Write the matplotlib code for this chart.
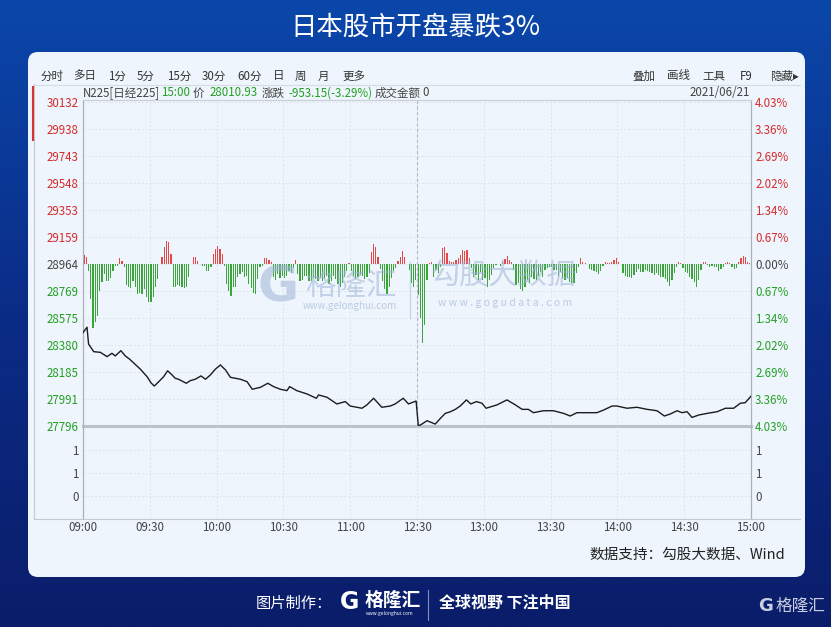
import matplotlib
matplotlib.use('Agg')
import matplotlib.pyplot as plt
import numpy as np
from matplotlib.patches import FancyBboxPatch
from matplotlib.lines import Line2D
from matplotlib.colors import LinearSegmentedColormap

plt.rcParams['font.family'] = ['Noto Sans CJK SC', 'DejaVu Sans']

# ---------------- data ----------------
title = '日本股市开盘暴跌3%'
prev_close = 28964
price_ticks = [30132, 29938, 29743, 29548, 29353, 29159, 28964,
               28769, 28575, 28380, 28185, 27991, 27796]
pct_labels = ['4.03%', '3.36%', '2.69%', '2.02%', '1.34%', '0.67%', '0.00%',
              '0.67%', '1.34%', '2.02%', '2.69%', '3.36%', '4.03%']
time_pos = [0, 30, 60, 90, 120, 150, 180, 210, 240, 270, 300]
time_labels = ['09:00', '09:30', '10:00', '10:30', '11:00', '12:30',
               '13:00', '13:30', '14:00', '14:30', '15:00']
vol_ticks = [2, 1, 0]
vol_labels = ['1', '1', '0']

# price line: trading minute since open (lunch break removed) and index level
line_min = [0, 1.8, 2.5, 4.8, 7.8, 10.8, 13, 14.5, 17, 19,
            21, 25.8, 28.8, 30.5, 32, 34, 36.2, 38, 40, 41.4,
            42.9, 46.4, 48.2, 50.4, 53, 55, 57.2, 59.4, 61.7, 64,
            66.2, 70.7, 73.7, 76, 79.7, 83, 85.6, 88.6, 91.6, 92.8,
            96, 100.6, 104.8, 105.8, 109.6, 114, 117.8, 120, 125.3, 127.5,
            130.5, 134.2, 138, 140.2, 143.8, 146.2, 149.6, 150.6, 152.2, 154.5,
            158.2, 160.5, 162.7, 165, 167.2, 169.4, 172.2, 174.2, 176.7, 179.2,
            181, 185.9, 190.4, 194.2, 197.2, 200, 202.3, 206.8, 211.3, 215.8,
            218.8, 221.8, 226.3, 230.8, 233.8, 237.6, 239.8, 244.3, 248.8, 253.3,
            257.8, 261.1, 263.8, 266.8, 269, 271.3, 273.5, 276.5, 280.3, 284.8,
            288.5, 292.2, 295.2, 297.4, 300]
line_price = [28469, 28508, 28387, 28332, 28327, 28296, 28320, 28301, 28339, 28301,
              28277, 28205, 28151, 28108, 28084, 28115, 28151, 28194, 28164, 28140,
              28133, 28104, 28123, 28133, 28157, 28133, 28164, 28205, 28236, 28200,
              28147, 28133, 28115, 28061, 28075, 28104, 28080, 28061, 28051, 28080,
              28051, 28027, 27996, 28020, 28003, 27955, 27972, 27940, 27924, 27948,
              27996, 27931, 27940, 27955, 27996, 27955, 27976, 27796, 27810, 27834,
              27810, 27851, 27887, 27899, 27916, 27940, 27984, 27955, 27972, 27960,
              27924, 27948, 27984, 27948, 27916, 27916, 27892, 27906, 27906, 27887,
              27868, 27892, 27892, 27892, 27911, 27940, 27940, 27924, 27931, 27916,
              27906, 27868, 27883, 27906, 27892, 27899, 27858, 27875, 27887, 27899,
              27924, 27924, 27960, 27964, 28011]

# per-minute bars around the previous close (positive = red, negative = green)
bar_vals = [
    9, 7, -7, -35, -64, -58, -52, -27, -18, -10,
    -17, -17, -14, -7, -2, -2, 6, 3, -3, -21,
    -23, -24, -17, -23, -30, -29, -30, -25, -33, -38,
    -38, -33, -23, -15, 0, 7, 17, 23, 22, 10,
    -23, -23, -21, -22, -23, -24, -23, -13, 0, 7,
    7, 3, 0, -2, -2, -7, -7, -3, 10, 15,
    18, 15, 10, -2, -20, -27, -32, -23, -23, -13,
    -10, -8, -13, -12, -20, -24, -29, -30, -15, -3,
    -2, 6, 6, 4, 2, -13, -16, -10, -14, -12,
    -14, -12, -7, -9, -4, 4, -10, -17, -16, -12,
    -12, -17, -17, -14, -15, -17, -14, -17, -14, -12,
    -20, -17, -12, -15, -20, -23, -19, -13, -7, 1,
    -7, -12, -15, -13, -11, -12, -15, -13, -9, 12,
    20, 17, 7, -5, -17, -25, -30, -23, -14, -7,
    -4, 3, 7, 13, 7, 0, -6, -19, -23, -16,
    -31, -54, -79, -61, -16, 1, 2, -13, -6, -9,
    -3, 16, 17, 11, 3, 2, 2, 4, 6, 9,
    14, 13, 14, 6, -4, -13, -11, -16, -8, -16,
    -14, -23, -16, -11, -4, -1, 0, -2, 2, 5,
    8, 4, 2, -6, -21, -19, -25, -27, -23, -16,
    -19, -13, -15, -16, -12, -8, -13, -6, -4, -3,
    -3, -6, -6, -12, -8, -14, -16, -14, -18, -19,
    -19, -9, -3, 6, 2, 1, 0, -5, -6, -7,
    -8, -10, -7, -2, 2, 1, 1, 2, 4, 6,
    2, 0, -9, -12, -13, -13, -14, -11, -8, -5,
    -8, -8, -6, -7, -8, -9, -11, -9, -11, -13,
    -13, -15, -18, -22, -16, -9, -3, 2, 1, -4,
    -8, -9, -13, -15, -18, -23, -16, -6, 2, 2,
    -1, -3, -2, -3, -3, -7, -5, -3, 1, 2,
    1, -3, -5, -4, 2, 6, 8, 7, 2, 1,
]

# ---------------- styles ----------------
RED = '#d62a2a'
GREEN = '#23a023'
GRAY = '#444444'
BAR_RED = '#e64848'
BAR_GREEN = '#3aa63a'
GRID = '#dde3ea'

W, H = 831, 627
fig = plt.figure(figsize=(W / 100, H / 100), dpi=100)


def fx(px):
    return px / W


def fy(py):
    return 1 - py / H


# background (pixel coordinates, y downward)
bg = fig.add_axes([0, 0, 1, 1])
bg.set_xlim(0, W)
bg.set_ylim(H, 0)
bg.axis('off')
grad = np.linspace(0, 1, 256).reshape(-1, 1)
cmap = LinearSegmentedColormap.from_list('bgc', ['#0b47aa', '#0a2c86', '#0a1d6a'])
bg.imshow(grad, extent=[0, W, H, 0], aspect='auto', cmap=cmap, zorder=0)
bg.add_patch(FancyBboxPatch((28, 52), 777, 525,
                            boxstyle='round,pad=0,rounding_size=10',
                            fc='#eef5fc', ec='none', zorder=1))
bg.text(415.5, 27, title, ha='center', va='center', color='white',
        fontsize=19, fontweight='medium', zorder=2)

# frame lines
bg.plot([34, 800], [84.5, 84.5], color='#d6dce3', lw=0.8, zorder=2)
bg.plot([34, 34], [84, 518], color='#c3cad2', lw=0.8, zorder=2)
bg.plot([34, 800], [518.5, 518.5], color='#c3cad2', lw=0.8, zorder=2)
bg.plot([33, 33], [87, 140], color='#d63333', lw=1.5, zorder=2)

# toolbar
left_items = [('分时', 40), ('多日', 73), ('1分', 108), ('5分', 137), ('15分', 167),
              ('30分', 202), ('60分', 237), ('日', 273), ('周', 295), ('月', 318),
              ('更多', 342)]
for s, x in left_items:
    bg.text(x, 76, s, ha='left', va='center', fontsize=8.3, color='#333333', zorder=2)
right_items = [('叠加', 632), ('画线', 667), ('工具', 702), ('F9', 740), ('隐藏▸', 770)]
for s, x in right_items:
    bg.text(x, 76, s, ha='left', va='center', fontsize=8.3, color='#333333', zorder=2,
            family=['Noto Sans CJK SC', 'DejaVu Sans'])

# info line
info = [('N225[日经225]', 83, GRAY), ('15:00', 161, GREEN), ('价', 193, GRAY),
        ('28010.93', 210, GREEN), ('涨跌', 262, GRAY),
        ('-953.15(-3.29%)', 288, GREEN), ('成交金额', 375, GRAY), ('0', 422, GRAY)]
for s, x, c in info:
    bg.text(x, 93, s, ha='left', va='center', fontsize=8.3, color=c, zorder=2)
bg.text(750, 93, '2021/06/21', ha='right', va='center', fontsize=8.3, color=GRAY, zorder=2)

# ---------------- main price panel ----------------
ax = fig.add_axes([fx(83), fy(426), fx(751) - fx(83), (426 - 100) / H])
ax.set_facecolor('none')
ax.set_xlim(0, 300)
ax.set_ylim(27796, 30146)
ax.set_xticks(time_pos)
ax.set_yticks(price_ticks)
ax.set_yticklabels([str(v) for v in price_ticks])
ax.grid(True, color=GRID, lw=0.7, ls=(0, (2, 2)))
ax.tick_params(axis='x', length=0, labelbottom=False)
ax.tick_params(axis='y', length=0, pad=3, labelsize=8.3)
for lab, v in zip(ax.get_yticklabels(), price_ticks):
    lab.set_color(RED if v > prev_close else (GREEN if v < prev_close else GRAY))
ax.axvline(150, color='#b2bac4', lw=0.8, ls=(0, (3, 2)))
for side in ('left', 'right'):
    ax.spines[side].set_color('#a9b1bb')
    ax.spines[side].set_linewidth(0.9)
ax.spines['top'].set_color('#c8cfd7')
ax.spines['top'].set_linewidth(0.9)
ax.spines['bottom'].set_color('#b9c1c9')
ax.spines['bottom'].set_linewidth(2.2)

# bars on their own scale, baseline aligned with previous close
ax_b = ax.twinx()
ax_b.set_ylim(-162, 164)
bar_x = np.arange(len(bar_vals)) + 0.5
bar_colors = [BAR_RED if v > 0 else BAR_GREEN for v in bar_vals]
ax_b.bar(bar_x, bar_vals, width=0.55, color=bar_colors, linewidth=0)
ax_b.axis('off')

# price line + right percentage axis
ax_l = ax.twinx()
ax_l.set_ylim(ax.get_ylim())
ax_l.plot(line_min, line_price, color='#1c1c1c', lw=1.0)
ax_l.set_yticks(price_ticks)
ax_l.set_yticklabels(pct_labels)
ax_l.tick_params(axis='y', length=0, pad=3, labelsize=8.3)
for lab, v in zip(ax_l.get_yticklabels(), price_ticks):
    lab.set_color(RED if v > prev_close else (GREEN if v < prev_close else GRAY))
for sp in ax_l.spines.values():
    sp.set_visible(False)

# ---------------- lower (volume) panel ----------------
vax = fig.add_axes([fx(83), fy(518), fx(751) - fx(83), 92 / H])
vax.set_facecolor('none')
vax.set_xlim(0, 300)
vax.set_ylim(-0.957, 3.043)
vax.set_xticks(time_pos)
vax.set_xticklabels(time_labels)
vax.set_yticks(vol_ticks)
vax.set_yticklabels(vol_labels)
vax.grid(True, color=GRID, lw=0.7, ls=(0, (2, 2)))
vax.tick_params(axis='both', length=0, labelsize=8.3, colors=GRAY)
vax.tick_params(axis='x', pad=2)
vax.tick_params(axis='y', pad=3, labelleft=True, labelright=True)
vax.spines['top'].set_visible(False)
vax.spines['bottom'].set_visible(False)
for side in ('left', 'right'):
    vax.spines[side].set_color('#a9b1bb')
    vax.spines[side].set_linewidth(0.9)

# ---------------- watermarks ----------------
wm = '#9fb4d6'
fig.text(fx(278), fy(287), 'G', ha='center', va='center', fontsize=36,
         fontweight='bold', family='DejaVu Sans', color=wm, alpha=0.55)
fig.text(fx(351), fy(286), '格隆汇', ha='center', va='center', fontsize=22,
         color=wm, alpha=0.55)
fig.text(fx(350), fy(306), 'www.gelonghui.com', ha='center', va='center',
         fontsize=7, color=wm, alpha=0.65)
fig.add_artist(Line2D([fx(410), fx(410)], [fy(262), fy(318)], color=wm, alpha=0.5, lw=1))
fig.text(fx(504), fy(277), '勾股大数据', ha='center', va='center', fontsize=21,
         color=wm, alpha=0.55)
fig.text(fx(505), fy(303), 'w w w . g o g u d a t a . c o m', ha='center', va='center',
         fontsize=7.5, color=wm, alpha=0.65)

# source
bg.text(785, 555, '数据支持：勾股大数据、Wind', ha='right', va='center',
        fontsize=10.5, color='#222222', zorder=2)

# ---------------- footer ----------------
bg.text(256, 603, '图片制作：', ha='left', va='center', fontsize=11, color='white', zorder=2)
bg.text(350, 602, 'G', ha='center', va='center', fontsize=17, fontweight='bold',
        family='DejaVu Sans', color='white', zorder=2)
bg.text(365, 600, '格隆汇', ha='left', va='center', fontsize=13.5, fontweight='bold',
        color='white', zorder=2)
bg.text(390, 613, 'www.gelonghui.com', ha='center', va='center', fontsize=3.5,
        color='white', zorder=2)
bg.plot([428, 428], [590, 620], color='#7f8fc0', lw=0.8, zorder=2)
bg.text(439, 603, '全球视野 下注中国', ha='left', va='center', fontsize=11.5,
        fontweight='bold', color='white', zorder=2)
bg.text(766, 606, 'G', ha='center', va='center', fontsize=13, fontweight='bold',
        family='DejaVu Sans', color='#c9cfe0', zorder=2)
bg.text(776, 606, '格隆汇', ha='left', va='center', fontsize=12,
        color='#c9cfe0', zorder=2)

fig.savefig('out.png', dpi=100)
